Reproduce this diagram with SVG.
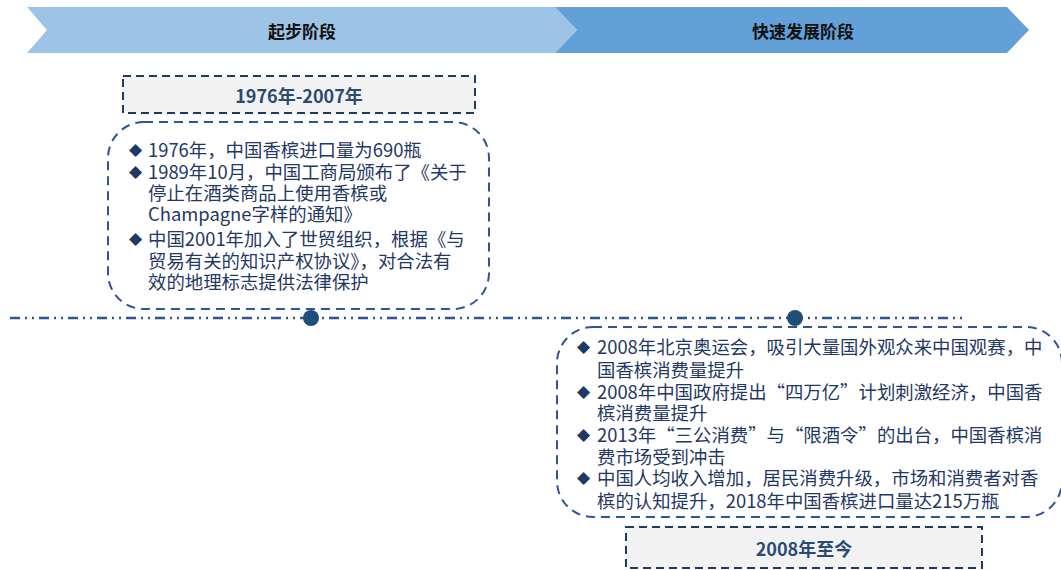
<svg xmlns="http://www.w3.org/2000/svg" width="1061" height="570" viewBox="0 0 1061 570">
<style>
.hd{font-family:"Noto Sans CJK SC","Liberation Sans",sans-serif;font-size:17px;font-weight:bold;fill:#111;text-anchor:middle;dominant-baseline:central}
.dt{font-family:"Noto Sans CJK SC","Liberation Sans",sans-serif;font-size:18px;font-weight:bold;fill:#2B4A6F;text-anchor:middle;dominant-baseline:central}
.tx{font-family:"Noto Sans CJK SC","Liberation Sans",sans-serif;font-size:18.4px;fill:#1F3864;dominant-baseline:central}
.bl{font-family:"DejaVu Sans",sans-serif;font-size:17px;fill:#1F3864}
.dbox{fill:#F2F2F2;stroke:#1F3864;stroke-width:2;stroke-dasharray:8,5}
.rbox{fill:#FFFFFF;stroke:#2F5597;stroke-width:2;stroke-dasharray:9,6}
.tl{stroke:#2F5597;stroke-width:2.5;stroke-dasharray:10,5,2,5,2,5;fill:none}
.dot{fill:#1F4E79}
</style>
<g id="banner1">
<polygon points="27,7 555,7 577,30 555,53 27,53 47,30" fill="#9DC3E6"/>
<text class="hd" x="302" y="30">起步阶段</text>
</g>
<g id="banner2">
<polygon points="555,7 1007,7 1029,30 1007,53 555,53 577,30" fill="#62A0D7"/>
<text class="hd" x="803" y="30">快速发展阶段</text>
</g>
<g id="connectors">
<line class="tl" x1="10" y1="318" x2="962" y2="318"/>
</g>
<g id="date1">
<rect class="dbox" x="123" y="76" width="352" height="37"/>
<text class="dt" x="299" y="95">1976年-2007年</text>
</g>
<g id="box1">
<rect class="rbox" x="108" y="122" width="381" height="187" rx="36" ry="36"/>
<text class="tx"><tspan class="bl" x="129" y="149">◆</tspan><tspan x="148" y="149">1976年，中国香槟进口量为690瓶</tspan><tspan class="bl" x="129" y="171">◆</tspan><tspan x="148" y="171">1989年10月，中国工商局颁布了《关于</tspan><tspan x="148" y="192">停止在酒类商品上使用香槟或</tspan><tspan x="148" y="213">Champagne字样的通知》</tspan><tspan class="bl" x="129" y="238">◆</tspan><tspan x="148" y="238">中国2001年加入了世贸组织，根据《与</tspan><tspan x="148" y="260">贸易有关的知识产权协议》，对合法有</tspan><tspan x="148" y="281">效的地理标志提供法律保护</tspan></text>
</g>
<g id="node1">
<circle class="dot" cx="311" cy="318" r="8"/>
</g>
<g id="node2">
<circle class="dot" cx="795" cy="318" r="8"/>
</g>
<g id="box2">
<rect class="rbox" x="557" y="327" width="505" height="190" rx="36" ry="36"/>
<text class="tx"><tspan class="bl" x="577" y="346">◆</tspan><tspan x="597" y="346">2008年北京奥运会，吸引大量国外观众来中国观赛，中</tspan><tspan x="597" y="369">国香槟消费量提升</tspan><tspan class="bl" x="577" y="391">◆</tspan><tspan x="597" y="391">2008年中国政府提出“四万亿”计划刺激经济，中国香</tspan><tspan x="597" y="412">槟消费量提升</tspan><tspan class="bl" x="577" y="434">◆</tspan><tspan x="597" y="434">2013年“三公消费”与“限酒令”的出台，中国香槟消</tspan><tspan x="597" y="456">费市场受到冲击</tspan><tspan class="bl" x="577" y="477">◆</tspan><tspan x="597" y="477">中国人均收入增加，居民消费升级，市场和消费者对香</tspan><tspan x="597" y="500">槟的认知提升，2018年中国香槟进口量达215万瓶</tspan></text>
</g>
<g id="date2">
<rect class="dbox" x="626" y="527" width="356" height="41"/>
<text class="dt" x="804" y="548">2008年至今</text>
</g>
</svg>
